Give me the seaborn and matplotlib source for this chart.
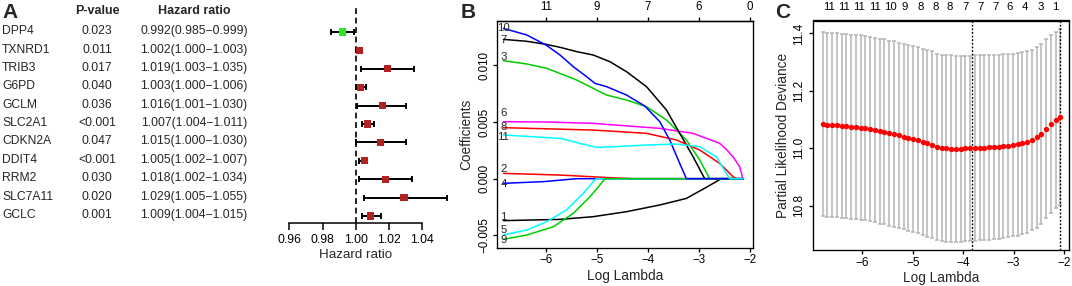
import numpy as np
import matplotlib
matplotlib.use('Agg')
import matplotlib.pyplot as plt
import matplotlib.transforms as mtransforms
import seaborn as sns

# ---------------- panel A: univariate Cox results
genes = ['DPP4', 'TXNRD1', 'TRIB3', 'G6PD', 'GCLM', 'SLC2A1', 'CDKN2A',
         'DDIT4', 'RRM2', 'SLC7A11', 'GCLC']
p_values = ['0.023', '0.011', '0.017', '0.040', '0.036', '<0.001', '0.047',
            '<0.001', '0.030', '0.020', '0.001']
hr = [0.992, 1.002, 1.019, 1.003, 1.016, 1.007, 1.015, 1.005, 1.018, 1.029, 1.009]
hr_low = [0.985, 1.000, 1.003, 1.000, 1.001, 1.004, 1.000, 1.002, 1.002, 1.005, 1.004]
hr_high = [0.999, 1.003, 1.035, 1.006, 1.030, 1.011, 1.030, 1.007, 1.034, 1.055, 1.015]
hr_ticks = [0.96, 0.98, 1.00, 1.02, 1.04]

# ---------------- panel B: LASSO coefficient paths (log lambda, coefficient)
path_x = {
    1: [-6.837, -5.725, -5.072, -4.418, -3.765, -3.242, -2.850, -2.556],
    2: [-6.837, -5.725, -4.745, -4.288],
    3: [-6.837, -6.379, -5.987, -5.399, -5.072, -4.810, -4.418, -4.026, -3.634, -3.242, -2.980, -2.784],
    4: [-6.837, -6.052, -5.399],
    5: [-6.837, -6.379, -5.987, -5.595, -5.268, -5.072, -5.007],
    6: [-6.837, -5.987, -5.072, -3.765, -3.111, -2.588, -2.458, -2.327, -2.196, -2.131],
    7: [-6.837, -6.379, -6.000, -5.725, -5.399, -5.072, -4.745, -4.418, -4.026, -3.634, -3.373, -3.111, -2.882],
    8: [-6.837, -5.072, -4.026, -3.438, -2.980, -2.588, -2.327, -2.261],
    9: [-6.837, -6.379, -5.856, -5.464, -5.137, -4.941, -4.843],
    10: [-6.837, -6.379, -6.000, -5.725, -5.464, -5.203, -5.039, -4.810, -4.418, -4.059, -3.765, -3.569, -3.373, -3.242],
    11: [-6.837, -5.725, -5.333, -5.007, -4.680, -4.026, -3.438, -2.980, -2.653, -2.458, -2.392],
}
path_y = {
    1: [-0.00370, -0.00359, -0.00335, -0.00291, -0.00232, -0.00174, -0.00076, 0.0],
    2: [0.00047, 0.00032, 0.00009, 0.0],
    3: [0.01041, 0.01012, 0.00974, 0.00871, 0.00797, 0.00738, 0.00694, 0.00635, 0.00518, 0.00341, 0.00165, 0.0],
    4: [-0.00041, -0.00026, 0.0],
    5: [-0.00497, -0.00453, -0.00379, -0.00276, -0.00129, -0.00026, 0.0],
    6: [0.00503, 0.00500, 0.00488, 0.00444, 0.00400, 0.00312, 0.00259, 0.00194, 0.00106, 0.0],
    7: [0.01229, 0.01212, 0.01185, 0.01159, 0.01121, 0.01091, 0.01032, 0.00944, 0.00812, 0.00606, 0.00400, 0.00194, 0.0],
    8: [0.00450, 0.00429, 0.00400, 0.00341, 0.00253, 0.00135, 0.00018, 0.0],
    9: [-0.00535, -0.00497, -0.00424, -0.00306, -0.00159, -0.00056, 0.0],
    10: [0.01326, 0.01268, 0.01179, 0.01091, 0.00988, 0.00900, 0.00841, 0.00812, 0.00738, 0.00641, 0.00503, 0.00341, 0.00135, 0.0],
    11: [0.00385, 0.00356, 0.00312, 0.00276, 0.00282, 0.00297, 0.00306, 0.00282, 0.00194, 0.00047, 0.0],
}
path_label_y = {1: -0.00335, 2: 0.00082, 3: 0.0107, 4: -0.0005, 5: -0.00453, 6: 0.00576,
                7: 0.01224, 8: 0.00458, 9: -0.00541, 10: 0.01332, 11: 0.00368}
path_end_x = -2.131
b_top_pos = [-6, -5, -4, -3, -2]
b_top_lab = ['11', '9', '7', '6', '0']

# ---------------- panel C: 10-fold CV partial likelihood deviance
# glmnet's lambda path is evenly spaced on the log scale
log_lambda = np.linspace(-6.786, -2.071, 51)
cv_mean = [11.084, 11.082, 11.081, 11.080, 11.079, 11.078, 11.075, 11.074, 11.072, 11.070,
           11.067, 11.064, 11.060, 11.057, 11.053, 11.050, 11.045, 11.041, 11.036, 11.032,
           11.028, 11.022, 11.017, 11.013, 11.005, 11.001, 11.000, 10.999, 10.999, 10.999,
           11.000, 11.000, 11.001, 11.002, 11.002, 11.003, 11.005, 11.006, 11.008, 11.009,
           11.012, 11.014, 11.017, 11.022, 11.029, 11.038, 11.051, 11.068, 11.085, 11.099,
           11.109]
cv_sd = [0.320, 0.320, 0.320, 0.320, 0.320, 0.320, 0.320, 0.320, 0.321, 0.321,
         0.321, 0.321, 0.322, 0.322, 0.322, 0.323, 0.323, 0.323, 0.324, 0.324,
         0.324, 0.324, 0.325, 0.325, 0.325, 0.325, 0.325, 0.325, 0.324, 0.324,
         0.323, 0.323, 0.323, 0.322, 0.322, 0.321, 0.321, 0.320, 0.320, 0.319,
         0.318, 0.318, 0.317, 0.316, 0.315, 0.314, 0.313, 0.311, 0.309, 0.307,
         0.305]
log_lambda_min = -3.83
log_lambda_1se = -2.08
c_top_pos = [-6.66, -6.36, -6.06, -5.75, -5.45, -5.15, -4.85, -4.55, -4.26, -3.96,
             -3.66, -3.36, -3.07, -2.77, -2.47, -2.17]
c_top_lab = ['11', '11', '11', '11', '10', '9', '8', '8', '8', '7', '7', '7', '6', '4', '3', '1']

r_cols = ['#000000', '#FF0000', '#00CD00', '#0000FF', '#00FFFF', '#FF00FF']

sns.set_theme(style='white')
plt.rcParams['font.family'] = ['Liberation Sans', 'DejaVu Sans']
plt.rcParams['axes.edgecolor'] = 'black'
plt.rcParams['axes.linewidth'] = 0.95
plt.rcParams['xtick.color'] = 'black'
plt.rcParams['ytick.color'] = 'black'

W, H = 1072, 286
fig = plt.figure(figsize=(W / 100, H / 100), dpi=100)


def px_axes(left, top, right, bottom):
    return fig.add_axes([left / W, 1 - bottom / H, (right - left) / W, (bottom - top) / H])


# ---------------- A
ax_a = px_axes(281, 7, 452.2, 223)
rows = np.arange(len(genes))
hr_a = np.array(hr)
ax_a.errorbar(hr_a, rows, xerr=[hr_a - np.array(hr_low), np.array(hr_high) - hr_a],
              fmt='none', ecolor='black', elinewidth=1.4, capsize=1.9, capthick=1.4, zorder=2)
effect = ['protective' if h < 1 else 'risk' for h in hr]
sns.scatterplot(x=hr_a, y=rows, hue=effect, palette={'protective': '#2CE62C', 'risk': '#B22222'},
                marker='s', s=26, linewidth=0, legend=False, zorder=3, ax=ax_a)
ax_a.axvline(1.0, color='black', linestyle=(0, (3.5, 2.2)), lw=1.2, zorder=1)
ax_a.set_xlim(0.955, 1.058)
ax_a.set_ylim(10.38, -1.36)
for s in ['left', 'top', 'right']:
    ax_a.spines[s].set_visible(False)
ax_a.spines['bottom'].set_bounds(0.96, 1.04)
ax_a.spines['bottom'].set_linewidth(1.1)
ax_a.set_xticks(hr_ticks)
ax_a.set_xticklabels(['%.2f' % t for t in hr_ticks])
ax_a.set_yticks([])
ax_a.tick_params(axis='x', length=4.8, width=1.1, labelsize=8.8, pad=3, direction='out', bottom=True)
ax_a.set_xlabel('Hazard ratio', fontsize=9.6)
ax_a.xaxis.set_label_coords(0.438, -0.15)
ax_a.xaxis.label.set_va('center')

tr = mtransforms.blended_transform_factory(fig.transFigure, ax_a.transData)
header_row = -1.14
ax_a.text(97 / W, header_row, 'P-value', transform=tr, ha='center', va='center',
          fontsize=9, fontweight='bold')
ax_a.text(194 / W, header_row, 'Hazard ratio', transform=tr, ha='center', va='center',
          fontsize=9, fontweight='bold')
for i, g in enumerate(genes):
    ax_a.text(2 / W, i - 0.05, g, transform=tr, ha='left', va='center', fontsize=8.7)
    ax_a.text(97 / W, i - 0.05, p_values[i], transform=tr, ha='center', va='center', fontsize=8.7)
    ax_a.text(194 / W, i - 0.05, '%.3f(%.3f\u2212%.3f)' % (hr[i], hr_low[i], hr_high[i]),
              transform=tr, ha='center', va='center', fontsize=8.7)

# ---------------- B
ax_b = px_axes(497.3, 21, 752.7, 247.5)
for k in range(1, 12):
    xs = path_x[k] + [path_end_x]
    ys = path_y[k] + [0.0]
    sns.lineplot(x=xs, y=ys, color=r_cols[(k - 1) % 6], lw=1.1, estimator=None,
                 sort=False, ax=ax_b)
    ax_b.text(path_x[k][0], path_label_y[k], str(k), ha='center', va='center', fontsize=8.2)
ax_b.set_xlim(-6.957, -1.939)
ax_b.set_ylim(-0.00607, 0.01391)
ax_b.set_xticks([-6, -5, -4, -3, -2])
ax_b.set_xticklabels(['\u22126', '\u22125', '\u22124', '\u22123', '\u22122'])
b_yt = [-0.005, 0.0, 0.005, 0.010]
ax_b.set_yticks(b_yt)
ax_b.set_yticklabels(['\u22120.005', '0.000', '0.005', '0.010'], rotation=90, va='center')
ax_b.tick_params(length=2.9, width=0.95, labelsize=8.3, pad=2, direction='out',
                 bottom=True, left=True)
ax_b.set_xlabel('Log Lambda', fontsize=9.8)
ax_b.xaxis.set_label_coords(0.5, -0.127)
ax_b.xaxis.label.set_va('center')
ax_b.set_ylabel('Coefficients', fontsize=9.8)
ax_b.yaxis.set_label_coords(-0.12, 0.5)
ax_b.yaxis.label.set_va('center')
sec_b = ax_b.secondary_xaxis('top')
sec_b.set_xticks(b_top_pos)
sec_b.set_xticklabels(b_top_lab)
sec_b.tick_params(length=2.9, width=0.95, labelsize=8.3, pad=3, direction='out')

# ---------------- C
ax_c = px_axes(812.7, 20.5, 1069.3, 250)
ax_c.errorbar(log_lambda, cv_mean, yerr=cv_sd, fmt='none', ecolor='#B5B5B5',
              elinewidth=1.1, capsize=1.5, capthick=1.1, zorder=1)
sns.scatterplot(x=log_lambda, y=cv_mean, color='#FF0000', s=15, linewidth=0, zorder=3, ax=ax_c)
for v in [log_lambda_min, log_lambda_1se]:
    ax_c.axvline(v, color='black', linestyle=(0, (1.3, 1.3)), lw=1.0, zorder=2)
ax_c.set_xlim(-6.984, -1.895)
ax_c.set_ylim(10.646, 11.445)
ax_c.set_xticks([-6, -5, -4, -3, -2])
ax_c.set_xticklabels(['\u22126', '\u22125', '\u22124', '\u22123', '\u22122'])
c_yt = [10.8, 11.0, 11.2, 11.4]
ax_c.set_yticks(c_yt)
ax_c.set_yticklabels(['%.1f' % t for t in c_yt], rotation=90, va='center')
ax_c.tick_params(length=2.9, width=0.95, labelsize=8.5, pad=2.5, direction='out',
                 bottom=True, left=True)
ax_c.set_xlabel('Log Lambda', fontsize=9.8)
ax_c.xaxis.set_label_coords(0.5, -0.121)
ax_c.xaxis.label.set_va('center')
ax_c.set_ylabel('Partial Likelihood Deviance', fontsize=9.8)
ax_c.yaxis.set_label_coords(-0.116, 0.5)
ax_c.yaxis.label.set_va('center')
sec_c = ax_c.secondary_xaxis('top')
sec_c.set_xticks(c_top_pos)
sec_c.set_xticklabels(c_top_lab)
sec_c.tick_params(length=0, labelsize=8.2, pad=6)

# panel letters
for x, lab in [(2, 'A'), (461, 'B'), (775, 'C')]:
    fig.text(x / W, 1 - 12 / H, lab, ha='left', va='center', fontsize=15, fontweight='bold')

fig.savefig('out.png', dpi=100)
